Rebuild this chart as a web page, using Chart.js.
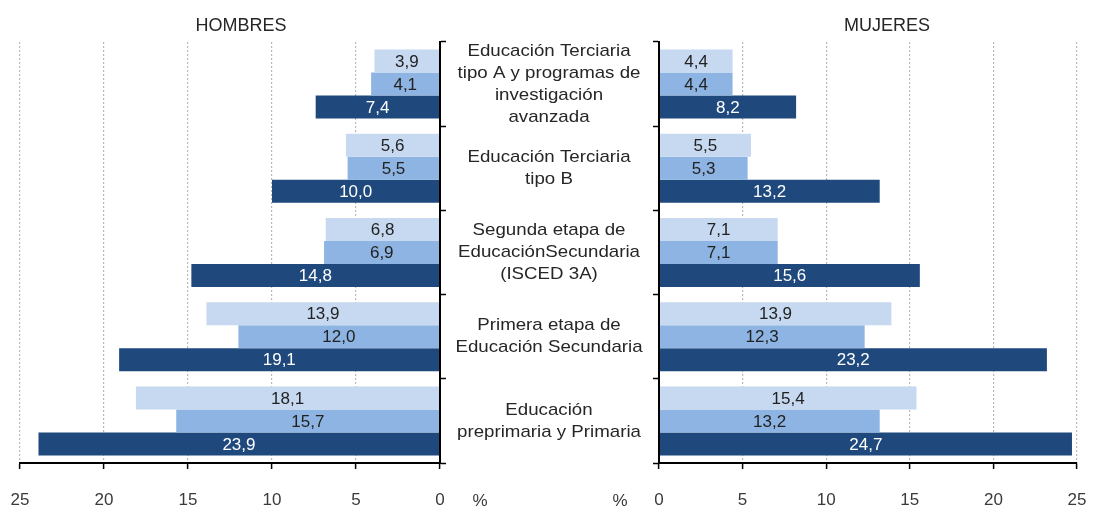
<!DOCTYPE html>
<html>
<head>
<meta charset="utf-8">
<title>Hombres y Mujeres por nivel educativo</title>
<script src="https://cdn.jsdelivr.net/npm/chart.js@4.4.0/dist/chart.umd.min.js"></script>
<style>
    html, body { margin: 0; padding: 0; background: #fff; }
    #wrap { position: relative; width: 1093px; height: 508px; overflow: hidden; }
    #left { position: absolute; left: 0; top: 0; }
    #right { position: absolute; left: 600px; top: 0; }
</style>
</head>
<body>
<div id="wrap">
    <canvas id="left" width="660" height="508"></canvas>
    <canvas id="right" width="493" height="508"></canvas>
</div>
<script>
// categories, top to bottom (multi-line labels)
const categorias = [
    ['Educación Terciaria', 'tipo A y programas de', 'investigación', 'avanzada'],
    ['Educación Terciaria', 'tipo B'],
    ['Segunda etapa de', 'EducaciónSecundaria', '(ISCED 3A)'],
    ['Primera etapa de', 'Educación Secundaria'],
    ['Educación', 'preprimaria y Primaria']
];
const series = ['Serie 1', 'Serie 2', 'Serie 3'];

// HOMBRES
const hombresS1 = [3.9, 5.6, 6.8, 13.9, 18.1];
const hombresS2 = [4.1, 5.5, 6.9, 12.0, 15.7];
const hombresS3 = [7.4, 10.0, 14.8, 19.1, 23.9];

// MUJERES
const mujeresS1 = [4.4, 5.5, 7.1, 13.9, 15.4];
const mujeresS2 = [4.4, 5.3, 7.1, 12.3, 13.2];
const mujeresS3 = [8.2, 13.2, 15.6, 23.2, 24.7];

const ejeMin = 0, ejeMax = 25, ejePaso = 5;

const colores = ['#c6d9f1', '#8db4e2', '#1f497d'];
const coloresTexto = ['#222', '#222', '#fff'];
const FONT = '"Liberation Sans", Arial, sans-serif';
Chart.defaults.font.family = FONT;

const fmt = v => v.toFixed(1).replace('.', ',');

// value labels centred in each bar
const etiquetasBarras = {
    id: 'etiquetasBarras',
    afterDatasetsDraw(chart) {
        const ctx = chart.ctx;
        ctx.save();
        ctx.font = '17px ' + FONT;
        ctx.textAlign = 'center';
        ctx.textBaseline = 'middle';
        chart.data.datasets.forEach((ds, i) => {
            chart.getDatasetMeta(i).data.forEach((bar, j) => {
                ctx.fillStyle = coloresTexto[i];
                ctx.fillText(fmt(ds.data[j]), (bar.x + bar.base) / 2, bar.y + 1);
            });
        });
        ctx.restore();
    }
};

// side title and "%" unit label
const extras = {
    id: 'extras',
    afterDraw(chart, args, opts) {
        const ctx = chart.ctx;
        ctx.save();
        ctx.fillStyle = '#262626';
        ctx.textAlign = 'center';
        ctx.textBaseline = 'middle';
        ctx.font = '18px ' + FONT;
        ctx.fillText(opts.titulo, opts.tituloX, 26);
        ctx.font = '17px ' + FONT;
        ctx.fillStyle = '#3a3a3a';
        ctx.fillText('%', opts.pctX, 501);
        ctx.restore();
    }
};

// category names drawn in the gap between both halves
const categoriasCentro = {
    id: 'categoriasCentro',
    afterDraw(chart) {
        const ctx = chart.ctx;
        const y = chart.scales.y;
        const cx = chart.chartArea.right + 109;
        const lh = 22;
        ctx.save();
        ctx.font = '17px ' + FONT;
        ctx.fillStyle = '#262626';
        ctx.textAlign = 'center';
        ctx.textBaseline = 'middle';
        categorias.forEach((lineas, i) => {
            const yc = y.getPixelForValue(i);
            lineas.forEach((t, k) => {
                ctx.save();
                ctx.translate(cx, yc + (k - (lineas.length - 1) / 2) * lh);
                ctx.scale(1.1, 1);
                ctx.fillText(t, 0, 0);
                ctx.restore();
            });
        });
        ctx.restore();
    }
};

const makeDatasets = (d1, d2, d3) => [d1, d2, d3].map((d, i) => ({
    label: series[i],
    data: d,
    backgroundColor: colores[i],
    borderWidth: 0,
    barPercentage: 1,
    categoryPercentage: 0.82
}));

const ejeX = reverse => ({
    reverse: reverse,
    min: ejeMin,
    max: ejeMax,
    ticks: { stepSize: ejePaso, color: '#3a3a3a', font: { size: 17 }, padding: 21, maxRotation: 0 },
    grid: {
        color: c => (c.tick && c.tick.value === 0) ? 'rgba(0,0,0,0)' : '#b8b8b8',
        lineWidth: 1.2,
        tickColor: '#000',
        tickWidth: 1.5,
        tickLength: 6
    },
    border: { color: '#000', width: 2, dash: [2, 2], z: 1 },
    afterFit(s) {
        s.height = 45;
        // tick label padding should not widen the side margins
        s.paddingLeft = 10;
        s.paddingRight = 10;
    }
});

const ejeY = (pos, ancho) => ({
    position: pos,
    grid: { drawOnChartArea: false, tickColor: '#000', tickWidth: 1.5, tickLength: 6 },
    border: { color: '#000', width: 2, z: 1 },
    ticks: { display: false },
    afterFit(s) { s.width = ancho; }
});

const baseOptions = {
    indexAxis: 'y',
    responsive: false,
    animation: false,
    plugins: { legend: { display: false }, tooltip: { enabled: false } }
};

new Chart(document.getElementById('left'), {
    type: 'bar',
    data: { labels: categorias.map(c => c.join(' ')), datasets: makeDatasets(hombresS1, hombresS2, hombresS3) },
    options: {
        ...baseOptions,
        layout: { padding: { top: 42, left: 20, right: 0, bottom: 0 } },
        scales: { x: ejeX(true), y: ejeY('right', 220) },
        plugins: { ...baseOptions.plugins, extras: { titulo: 'HOMBRES', tituloX: 241, pctX: 480 } }
    },
    plugins: [etiquetasBarras, extras, categoriasCentro]
});

new Chart(document.getElementById('right'), {
    type: 'bar',
    data: { labels: categorias.map(c => c.join(' ')), datasets: makeDatasets(mujeresS1, mujeresS2, mujeresS3) },
    options: {
        ...baseOptions,
        layout: { padding: { top: 42, left: 0, right: 16, bottom: 0 } },
        scales: { x: ejeX(false), y: ejeY('left', 59) },
        plugins: { ...baseOptions.plugins, extras: { titulo: 'MUJERES', tituloX: 287, pctX: 20 } }
    },
    plugins: [etiquetasBarras, extras]
});
</script>
</body>
</html>
